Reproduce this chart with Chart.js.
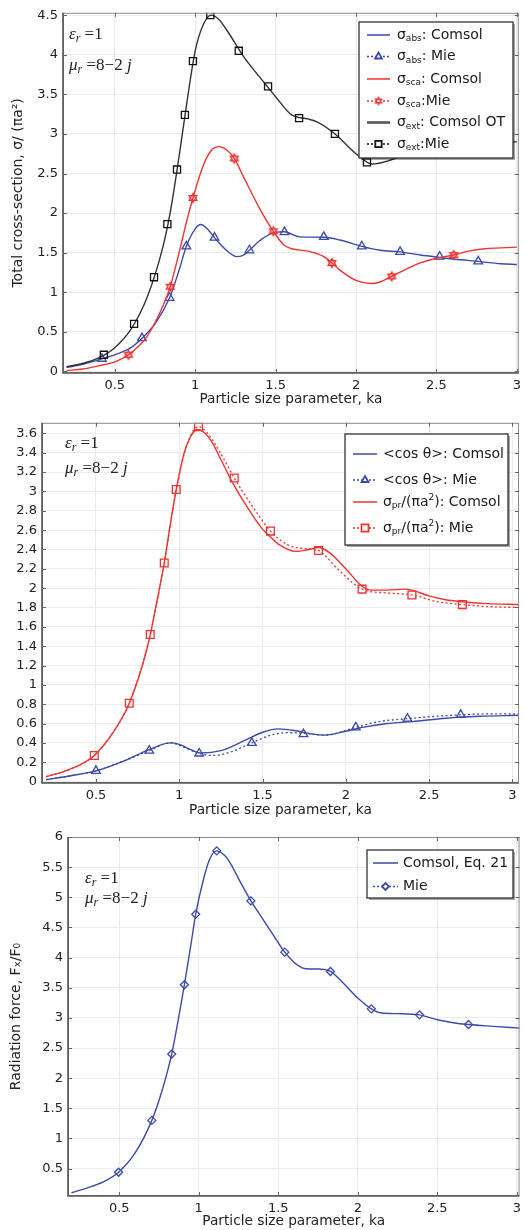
<!DOCTYPE html>
<html><head><meta charset="utf-8">
<script src="https://cdn.jsdelivr.net/npm/chart.js@4/dist/chart.umd.min.js"></script>
<style>
body{margin:0;background:#fff;width:526px;height:1230px;overflow:hidden;position:relative}
.w{position:absolute;left:0;width:526px;height:410px}
canvas{display:block}
</style></head><body>
<div class="w" style="top:0"><canvas id="c1" width="526" height="410"></canvas></div>
<div class="w" style="top:410px"><canvas id="c2" width="526" height="410"></canvas></div>
<div class="w" style="top:820px"><canvas id="c3" width="526" height="410"></canvas></div>
<script>
// ================= DATA =================
const xTicks = [0.5, 1, 1.5, 2, 2.5, 3];
const xTickLabels = ['0.5', '1', '1.5', '2', '2.5', '3'];
const xTitle = 'Particle size parameter, ka';

// ---- Chart 1: cross-sections ----
const c1YTicks = [0, 0.5, 1, 1.5, 2, 2.5, 3, 3.5, 4, 4.5];
const c1YLabels = ['0', '0.5', '1', '1.5', '2', '2.5', '3', '3.5', '4', '4.5'];
const c1YTitle = 'Total cross-section, σ/ (πa²)';

const absComsolX = [0.2,0.3,0.42,0.5,0.6,0.669,0.75,0.841,0.9,0.945,1.0,1.034,1.08,1.12,1.2,1.255,1.3,1.337,1.4,1.5,1.555,1.65,1.8,1.9,2.036,2.15,2.274,2.4,2.52,2.65,2.76,2.9,3.0];
const absComsolY = [0.05,0.09,0.16,0.21,0.3,0.42,0.6,0.93,1.28,1.58,1.8,1.855,1.79,1.69,1.52,1.45,1.47,1.53,1.65,1.76,1.765,1.70,1.695,1.66,1.58,1.53,1.51,1.47,1.44,1.41,1.39,1.36,1.35];
const absMieX = [0.42,0.669,0.841,0.945,1.12,1.337,1.555,1.8,2.036,2.274,2.52,2.76];
const absMieY = [0.16,0.42,0.93,1.58,1.69,1.53,1.76,1.70,1.58,1.51,1.45,1.39];

const scaComsolX = [0.2,0.3,0.4,0.5,0.585,0.7,0.8,0.845,0.9,0.95,0.986,1.05,1.1,1.15,1.2,1.243,1.3,1.4,1.486,1.55,1.6,1.7,1.8,1.85,1.9,2.0,2.09,2.15,2.222,2.3,2.4,2.5,2.607,2.7,2.8,2.9,3.0];
const scaComsolY = [0.01,0.03,0.07,0.12,0.21,0.44,0.83,1.07,1.5,1.92,2.19,2.6,2.79,2.84,2.79,2.69,2.46,2.06,1.77,1.6,1.55,1.52,1.45,1.37,1.28,1.15,1.11,1.13,1.2,1.28,1.37,1.43,1.47,1.52,1.55,1.56,1.57];
const scaMieX = [0.585,0.845,0.986,1.243,1.486,1.85,2.222,2.607];
const scaMieY = [0.21,1.07,2.19,2.69,1.77,1.37,1.2,1.47];

const extComsolX = [0.2,0.3,0.4,0.5,0.6,0.7,0.8,0.85,0.9,0.95,1.0,1.05,1.1,1.15,1.2,1.3,1.4,1.5,1.6,1.7,1.76,1.87,2.0,2.1,2.2,2.3,2.4,2.5,2.6,2.8,3.0];
const extComsolY = [0.06,0.1,0.17,0.3,0.53,0.93,1.58,2.07,2.72,3.42,4.05,4.38,4.5,4.44,4.3,3.98,3.72,3.47,3.24,3.19,3.15,3.0,2.75,2.62,2.66,2.74,2.82,2.87,2.89,2.9,2.9];
const extMieX = [0.432,0.62,0.744,0.827,0.887,0.936,0.986,1.094,1.271,1.453,1.646,1.869,2.068];
const extMieY = [0.21,0.6,1.19,1.86,2.55,3.24,3.92,4.5,4.05,3.6,3.2,3.0,2.64];

// ---- Chart 2: <cos θ> and radiation pressure cross-section ----
const c2YTicks = [0,0.2,0.4,0.6,0.8,1,1.2,1.4,1.6,1.8,2,2.2,2.4,2.6,2.8,3,3.2,3.4,3.6];
const c2YLabels = ['0','0.2','0.4','0.6','0.8','1','1.2','1.4','1.6','1.8','2','2.2','2.4','2.6','2.8','3','3.2','3.4','3.6'];

const cosComsolX = [0.2,0.35,0.5,0.65,0.82,0.946,1.0,1.07,1.13,1.25,1.4,1.5,1.596,1.7,1.8,1.876,2.0,2.1,2.25,2.4,2.6,2.8,3.04];
const cosComsolY = [0.02,0.06,0.11,0.2,0.33,0.40,0.385,0.33,0.295,0.32,0.43,0.51,0.545,0.525,0.49,0.48,0.52,0.56,0.6,0.62,0.655,0.675,0.685];
const cosMieCurveX = [0.2,0.35,0.5,0.65,0.82,0.946,1.0,1.12,1.2,1.3,1.436,1.55,1.65,1.746,1.876,2.06,2.2,2.37,2.5,2.69,2.85,3.04];
const cosMieCurveY = [0.02,0.06,0.11,0.2,0.32,0.40,0.375,0.29,0.27,0.30,0.40,0.48,0.505,0.50,0.48,0.56,0.62,0.65,0.67,0.69,0.70,0.70];
const cosMieX = [0.5,0.82,1.12,1.436,1.746,2.06,2.37,2.69];
const cosMieY = [0.11,0.32,0.29,0.40,0.49,0.56,0.65,0.69];

const prComsolX = [0.2,0.3,0.4,0.49,0.6,0.7,0.8,0.826,0.87,0.91,0.95,0.982,1.03,1.08,1.11,1.15,1.2,1.25,1.33,1.4,1.5,1.548,1.6,1.7,1.78,1.836,1.9,2.0,2.098,2.15,2.25,2.35,2.397,2.5,2.6,2.7,2.85,3.04];
const prComsolY = [0.05,0.1,0.17,0.27,0.5,0.81,1.33,1.52,1.9,2.26,2.7,3.02,3.4,3.6,3.64,3.61,3.5,3.33,3.06,2.86,2.61,2.53,2.45,2.38,2.4,2.42,2.37,2.2,2.02,1.98,1.98,1.99,1.98,1.92,1.88,1.86,1.84,1.83];
const prMieCurveX = [0.2,0.35,0.49,0.6,0.7,0.826,0.91,0.982,1.05,1.116,1.17,1.25,1.33,1.45,1.548,1.65,1.75,1.836,1.95,2.098,2.25,2.397,2.55,2.7,2.85,3.04];
const prMieCurveY = [0.05,0.13,0.27,0.5,0.81,1.52,2.26,3.02,3.5,3.67,3.6,3.39,3.14,2.82,2.59,2.45,2.41,2.39,2.2,1.99,1.95,1.93,1.86,1.83,1.81,1.80];
const prMieX = [0.49,0.7,0.826,0.91,0.982,1.116,1.33,1.548,1.836,2.098,2.397,2.70];
const prMieY = [0.27,0.81,1.52,2.26,3.02,3.67,3.14,2.59,2.39,1.99,1.93,1.83];

// ---- Chart 3: radiation force ----
const c3YTicks = [0.5,1,1.5,2,2.5,3,3.5,4,4.5,5,5.5,6];
const c3YLabels = ['0.5','1','1.5','2','2.5','3','3.5','4','4.5','5','5.5','6'];
const c3YTitle = 'Radiation force, Fₓ/F₀';

const forceComsolX = [0.2,0.3,0.4,0.496,0.6,0.705,0.77,0.83,0.87,0.91,0.95,0.981,1.03,1.07,1.113,1.16,1.2,1.26,1.328,1.4,1.47,1.541,1.6,1.65,1.7,1.76,1.828,1.9,2.0,2.085,2.15,2.25,2.388,2.5,2.6,2.696,2.85,3.02];
const forceComsolY = [0.1,0.18,0.28,0.44,0.76,1.3,1.8,2.4,2.95,3.55,4.2,4.72,5.3,5.64,5.77,5.7,5.56,5.26,4.94,4.65,4.37,4.09,3.92,3.83,3.81,3.81,3.77,3.6,3.33,3.15,3.08,3.07,3.05,2.97,2.92,2.89,2.86,2.83];
const forceMieX = [0.496,0.705,0.83,0.91,0.981,1.113,1.328,1.541,1.828,2.085,2.388,2.696];
const forceMieY = [0.44,1.3,2.4,3.55,4.72,5.77,4.94,4.09,3.77,3.15,3.05,2.89];

// legend labels: [text, kind] where kind '' | 'sub' | 'sup'
const c1Legend = [
  [['σ',''],['abs','sub'],[': Comsol','']],
  [['σ',''],['abs','sub'],[': Mie','']],
  [['σ',''],['sca','sub'],[': Comsol','']],
  [['σ',''],['sca','sub'],[':Mie','']],
  [['σ',''],['ext','sub'],[': Comsol OT','']],
  [['σ',''],['ext','sub'],[':Mie','']]
];
const c2Legend = [
  [['<cos θ>: Comsol','']],
  [['<cos θ>: Mie','']],
  [['σ',''],['pr','sub'],['/(πa',''],['2','sup'],['): Comsol','']],
  [['σ',''],['pr','sub'],['/(πa',''],['2','sup'],['): Mie','']]
];
const c3Legend = [
  [['Comsol, Eq. 21','']],
  [['Mie','']]
];

// ================= STYLE / HELPERS =================
const BLUE = 'rgb(60,74,168)';
const RED = 'rgb(240,50,50)';
const BLACK = '#333333';
const GRID = '#ebebeb';
const FONT = '"DejaVu Sans", sans-serif';
const SERIF = '"Liberation Serif", "DejaVu Serif", serif';

function pts(xs, ys) { return xs.map((x, i) => ({x: x, y: ys[i]})); }

function hexagram(color, r) {
  const s = Math.ceil(2 * r + 4);
  const c = document.createElement('canvas');
  c.width = s; c.height = s;
  const g = c.getContext('2d');
  g.strokeStyle = color; g.lineWidth = 1.2;
  for (const off of [-90, 90]) {
    g.beginPath();
    for (let k = 0; k < 3; k++) {
      const a = (off + k * 120) * Math.PI / 180;
      const px = s / 2 + r * Math.cos(a), py = s / 2 + r * Math.sin(a);
      if (k) g.lineTo(px, py); else g.moveTo(px, py);
    }
    g.closePath(); g.stroke();
  }
  return c;
}
const HEX = hexagram(RED, 4.6);
const HEX_SMALL = hexagram(RED, 3.8);

function curve(xs, ys, color, width, dash) {
  return {data: pts(xs, ys), borderColor: color, borderWidth: width || 1.4,
    borderDash: dash || [], pointRadius: 0, fill: false,
    cubicInterpolationMode: 'monotone'};
}
function markers(xs, ys, color, style, r) {
  return {data: pts(xs, ys), showLine: false, pointStyle: style, pointRadius: r,
    pointBorderColor: color, pointBackgroundColor: 'rgba(255,255,255,0)',
    pointBorderWidth: 1.3, borderColor: color};
}

function drawRich(ctx, x, y, parts, size, color) {
  let cx = x;
  ctx.fillStyle = color;
  ctx.textBaseline = 'middle';
  ctx.textAlign = 'left';
  for (const [t, k] of parts) {
    const fs = k ? Math.round(size * 0.64) : size;
    ctx.font = fs + 'px ' + FONT;
    const dy = k === 'sub' ? size * 0.28 : (k === 'sup' ? -size * 0.33 : 0);
    ctx.fillText(t, cx, y + dy);
    cx += ctx.measureText(t).width;
  }
}

function drawNote(ctx, x, y, parts) {
  let cx = x;
  ctx.fillStyle = '#222';
  ctx.textBaseline = 'alphabetic';
  ctx.textAlign = 'left';
  for (const [t, font, dy] of parts) {
    ctx.font = font;
    ctx.fillText(t, cx, y + dy);
    cx += ctx.measureText(t).width;
  }
}

const decor = {
  id: 'decor',
  afterDatasetsDraw(chart, args, o) {
    const {ctx, chartArea: a, scales: {x, y}} = chart;
    ctx.save();
    // frame
    ctx.strokeStyle = '#8a8a8a'; ctx.lineWidth = 1;
    ctx.strokeRect(a.left + 0.5, a.top + 0.5, a.right - a.left - 1, a.bottom - a.top - 1);
    ctx.strokeStyle = '#555'; ctx.lineWidth = 1.6;
    ctx.beginPath();
    ctx.moveTo(a.left, a.top); ctx.lineTo(a.left, a.bottom); ctx.lineTo(a.right, a.bottom);
    ctx.stroke();
    // inward tick marks
    ctx.strokeStyle = '#666'; ctx.lineWidth = 1;
    ctx.beginPath();
    for (const t of x.ticks) {
      const px = Math.round(x.getPixelForValue(t.value)) + 0.5;
      ctx.moveTo(px, a.bottom); ctx.lineTo(px, a.bottom - 4);
      ctx.moveTo(px, a.top); ctx.lineTo(px, a.top + 4);
    }
    for (const t of y.ticks) {
      const py = Math.round(y.getPixelForValue(t.value)) + 0.5;
      ctx.moveTo(a.left, py); ctx.lineTo(a.left + 4, py);
      ctx.moveTo(a.right, py); ctx.lineTo(a.right - 4, py);
    }
    ctx.stroke();

    // legend
    const L = o.legend;
    ctx.fillStyle = 'rgba(0,0,0,0.35)';
    ctx.fillRect(L.x + 2, L.y + 2, L.w, L.h);
    ctx.fillStyle = '#fff';
    ctx.fillRect(L.x, L.y, L.w, L.h);
    ctx.strokeStyle = '#333'; ctx.lineWidth = 1.3;
    ctx.strokeRect(L.x, L.y, L.w, L.h);
    L.items.forEach((it, i) => {
      const ry = L.rows[i];
      ctx.save();
      ctx.strokeStyle = it.color; ctx.lineWidth = it.width || 1.5;
      ctx.setLineDash(it.dash || []);
      ctx.beginPath(); ctx.moveTo(L.x0, ry); ctx.lineTo(L.x1, ry); ctx.stroke();
      ctx.setLineDash([]);
      const mx = (L.x0 + L.x1) / 2;
      if (it.marker === 'hex') {
        ctx.fillStyle = '#fff'; ctx.fillRect(mx - 3, ry - 3, 6, 6);
        ctx.drawImage(HEX_SMALL, mx - HEX_SMALL.width / 2, ry - HEX_SMALL.height / 2);
      } else if (it.marker) {
        ctx.fillStyle = '#fff'; ctx.strokeStyle = it.color; ctx.lineWidth = 1.8;
        Chart.helpers.drawPoint(ctx, {pointStyle: it.marker, radius: it.r || 4, borderWidth: 1.8, rotation: 0}, mx, ry);
      }
      ctx.restore();
      drawRich(ctx, L.tx, ry, it.parts, L.size, '#1a1a1a');
    });

    // material notes
    const N = o.notes;
    const big = 'italic 17px ' + SERIF, up = '17px ' + SERIF, small = 'italic 12px ' + SERIF;
    drawNote(ctx, N.x, N.y1, [['ε', big, 0], ['r', small, 3], [' =1', up, 0]]);
    drawNote(ctx, N.x, N.y2, [['μ', big, 0], ['r', small, 3], [' =8−2', up, 0], [' j', big, 0]]);
    ctx.restore();
  }
};
Chart.register(decor);

function options(o) {
  const tickFont = {family: FONT, size: 13};
  const titleFont = {family: FONT, size: 13.7};
  return {
    responsive: false, animation: false, devicePixelRatio: 1,
    layout: {padding: {top: o.top, right: o.right, left: 0, bottom: 0}},
    plugins: {legend: {display: false}, tooltip: {enabled: false}, decor: o.decor},
    scales: {
      x: {type: 'linear', min: o.xmin, max: o.xmax,
        afterBuildTicks: s => { s.ticks = xTicks.map(v => ({value: v})); },
        afterFit: s => { s.height = o.xh; },
        grid: {color: GRID, drawTicks: false}, border: {display: false},
        ticks: {padding: 5, color: '#222', font: tickFont, maxRotation: 0, autoSkip: false,
          callback: (v, i) => xTickLabels[i]},
        title: {display: true, text: xTitle, color: '#222', font: titleFont,
          padding: {top: 0, bottom: o.xtPad}}},
      y: {type: 'linear', min: o.ymin, max: o.ymax,
        afterBuildTicks: s => { s.ticks = o.yt.map(v => ({value: v})); },
        afterFit: s => { s.width = o.yw; },
        grid: {color: GRID, drawTicks: false}, border: {display: false},
        ticks: {padding: 5, color: '#222', font: tickFont, autoSkip: false,
          callback: (v, i) => o.yl[i]},
        title: {display: !!o.ytitle, text: o.ytitle || '', color: '#222',
          font: {family: FONT, size: 14}, padding: {top: o.ytPad || 0, bottom: 0}}}
    }
  };
}

// ================= CHART 1 =================
new Chart(document.getElementById('c1'), {
  type: 'line',
  data: {datasets: [
    markers(extMieX, extMieY, '#111', 'rect', 5),
    curve(extComsolX, extComsolY, BLACK, 1.4),
    markers(scaMieX, scaMieY, RED, HEX, 5),
    curve(scaComsolX, scaComsolY, RED, 1.4),
    markers(absMieX, absMieY, BLUE, 'triangle', 5),
    curve(absComsolX, absComsolY, BLUE, 1.4)
  ]},
  options: options({top: 10, right: 6, xh: 37, yw: 63, xtPad: 2,
    xmin: 0.178, xmax: 3.012, ymin: -0.02, ymax: 4.53,
    yt: c1YTicks, yl: c1YLabels, ytitle: c1YTitle, ytPad: 10,
    decor: {
      legend: {x: 359, y: 22, w: 154, h: 136, x0: 367, x1: 390, tx: 397, size: 14,
        rows: [35, 56.5, 79, 101, 122.5, 144],
        items: [
          {parts: c1Legend[0], color: BLUE},
          {parts: c1Legend[1], color: BLUE, dash: [2, 2], marker: 'triangle'},
          {parts: c1Legend[2], color: RED},
          {parts: c1Legend[3], color: RED, dash: [2, 2], marker: 'hex'},
          {parts: c1Legend[4], color: '#555', width: 2.6},
          {parts: c1Legend[5], color: '#111', dash: [2, 2], marker: 'rect', r: 4.5}
        ]},
      notes: {x: 69, y1: 39, y2: 70}
    }})
});

// ================= CHART 2 =================
new Chart(document.getElementById('c2'), {
  type: 'line',
  data: {datasets: [
    markers(prMieX, prMieY, RED, 'rect', 5.5),
    curve(prMieCurveX, prMieCurveY, RED, 1.3, [2, 2.5]),
    curve(prComsolX, prComsolY, RED, 1.4),
    markers(cosMieX, cosMieY, BLUE, 'triangle', 5),
    curve(cosMieCurveX, cosMieCurveY, BLUE, 1.3, [2, 2.5]),
    curve(cosComsolX, cosComsolY, BLUE, 1.4)
  ]},
  options: options({top: 12, right: 7, xh: 37, yw: 42, xtPad: 1,
    xmin: 0.176, xmax: 3.04, ymin: -0.015, ymax: 3.71,
    yt: c2YTicks, yl: c2YLabels, ytitle: null,
    decor: {
      legend: {x: 345, y: 24, w: 163, h: 111, x0: 353, x1: 377, tx: 383, size: 14,
        rows: [44, 70, 92, 118],
        items: [
          {parts: c2Legend[0], color: BLUE},
          {parts: c2Legend[1], color: BLUE, dash: [2, 2], marker: 'triangle'},
          {parts: c2Legend[2], color: RED},
          {parts: c2Legend[3], color: RED, dash: [2, 2], marker: 'rect', r: 5}
        ]},
      notes: {x: 65, y1: 38, y2: 63}
    }})
});

// ================= CHART 3 =================
new Chart(document.getElementById('c3'), {
  type: 'line',
  data: {datasets: [
    markers(forceMieX, forceMieY, BLUE, 'rectRot', 4),
    curve(forceComsolX, forceComsolY, BLUE, 1.4)
  ]},
  options: options({top: 17, right: 6, xh: 34, yw: 68, xtPad: 0,
    xmin: 0.178, xmax: 3.017, ymin: 0.046, ymax: 6,
    yt: c3YTicks, yl: c3YLabels, ytitle: c3YTitle, ytPad: 8,
    decor: {
      legend: {x: 367, y: 30, w: 146, h: 48, x0: 373, x1: 398, tx: 403, size: 14,
        rows: [43, 66.5],
        items: [
          {parts: c3Legend[0], color: BLUE},
          {parts: c3Legend[1], color: BLUE, dash: [2, 2], marker: 'rectRot', r: 3.5}
        ]},
      notes: {x: 85, y1: 63, y2: 83}
    }})
});
</script>
</body></html>
